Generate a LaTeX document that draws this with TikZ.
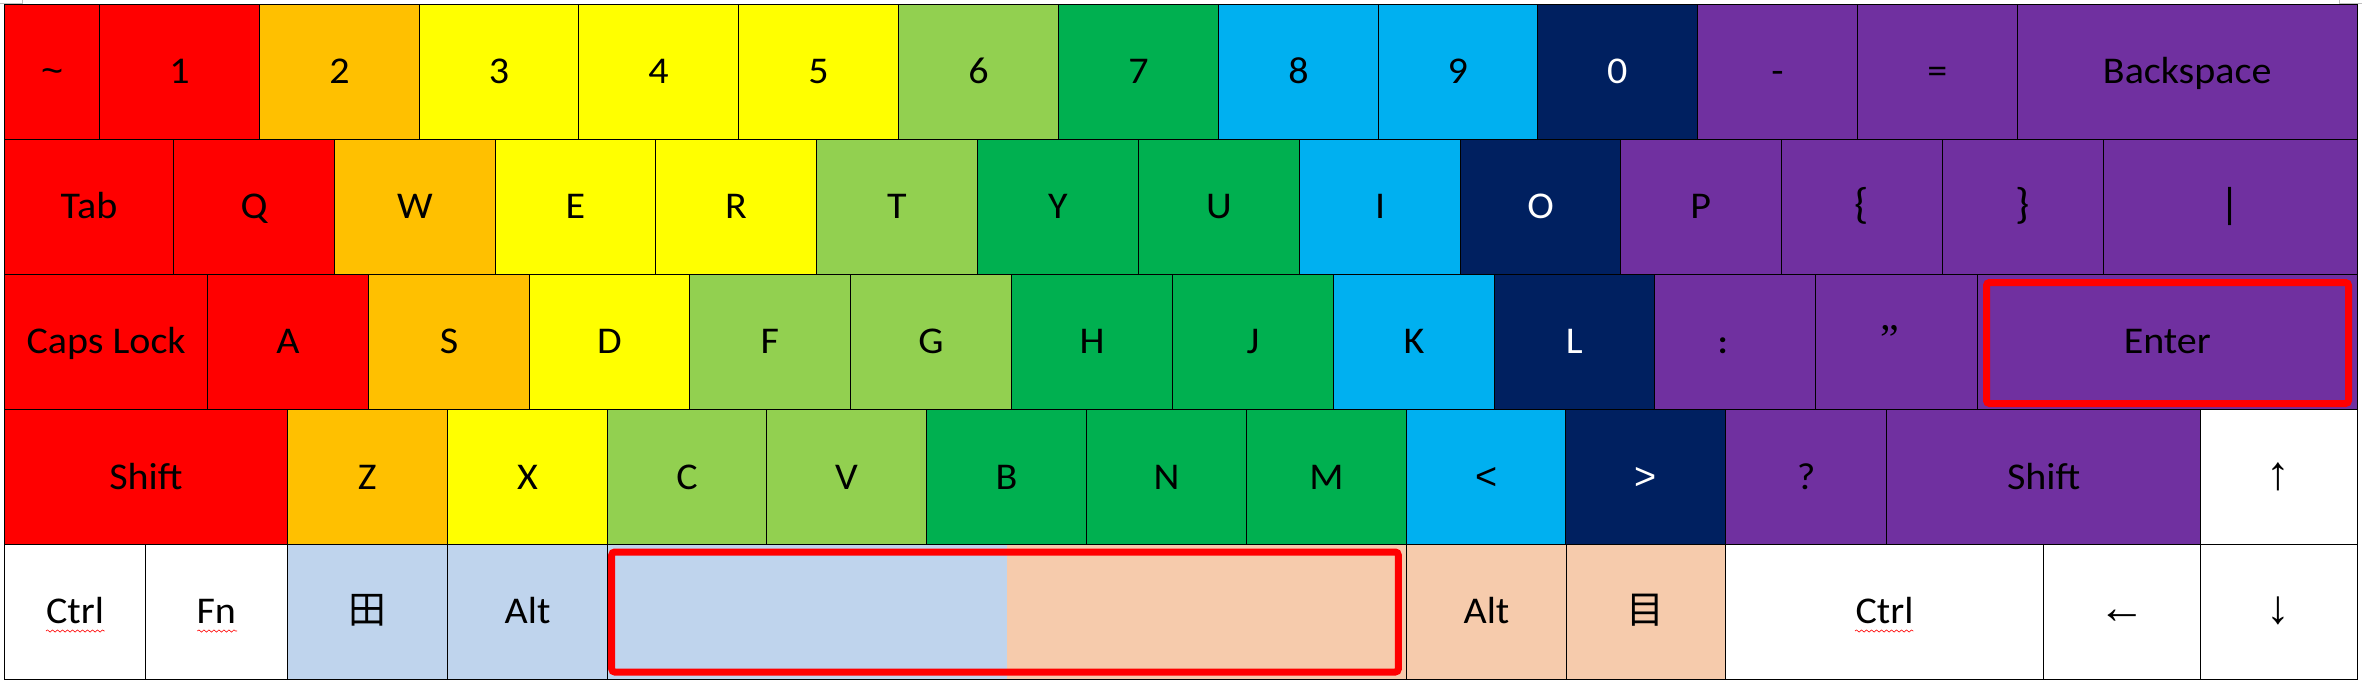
\documentclass[tikz,border=0pt]{standalone}
\usepackage{fontspec}
\setmainfont[FakeStretch=1.06]{Carlito}
\newfontfamily\cjk{Noto Sans CJK SC}
\newfontfamily\symb{Liberation Sans}
\newfontfamily\quot{Liberation Serif}
\usetikzlibrary{decorations.pathmorphing}
\definecolor{kred}{HTML}{FF0000}
\definecolor{korange}{HTML}{FFC000}
\definecolor{kyellow}{HTML}{FFFF00}
\definecolor{klime}{HTML}{92D050}
\definecolor{kgreen}{HTML}{00B050}
\definecolor{ksky}{HTML}{00B0F0}
\definecolor{knavy}{HTML}{002060}
\definecolor{kpurple}{HTML}{7030A0}
\definecolor{kpale}{HTML}{BFD4ED}
\definecolor{kpeach}{HTML}{F6CBAC}
\tikzset{
	keycap/.style={draw=black, line width=0.2mm, inner sep=0pt, minimum height=27mm,
		text height=6mm, text depth=1.2mm, font=\fontsize{21.5pt}{25pt}\selectfont},
	redframe/.style={draw=red, line width=1.4mm, rounded corners=0.6mm, inner sep=0pt},
	squiggle/.style={draw=red, line width=0.12mm, decorate, decoration={snake, amplitude=0.22mm, segment length=1mm}},
	cornermark/.style={draw=black!25, line width=0.2mm}
}
\newcommand{\keyrow}[2]{\foreach \xa/\xb/\col/\nm/\lab in {#2} {
		\node[keycap, fill=\col, minimum width={(\xb-\xa)*0.2mm}] (\nm) at ({(\xa+\xb)/2},#1) {\lab};
}}
\newcommand{\arrowsym}[1]{{\symb\fontsize{27pt}{27pt}\selectfont #1}}
\newcommand{\tallsym}[1]{{\fontsize{24.5pt}{25pt}\selectfont #1}}
\begin{document}
\begin{tikzpicture}[x=0.2mm, y=-0.2mm]
	\useasboundingbox (0,0) rectangle (2362,682);
	\fill[white] (0,0) rectangle (2362,682);
	\draw[cornermark] (0,3.3) -- (22,3.3) -- (22,0);
	\draw[cornermark] (2362,3.3) -- (2339,3.3) -- (2339,0);
	% number row
	\keyrow{71.7}{4.6/99.5/kred/kTilde/{\symb\textasciitilde}, 99.5/259.7/kred/kOne/1, 259.7/419.4/korange/kTwo/2,
		419.4/578.6/kyellow/kThree/3, 578.6/738.3/kyellow/kFour/4, 738.3/898.5/kyellow/kFive/5,
		898.5/1058.7/klime/kSix/6, 1058.7/1218.4/kgreen/kSeven/7, 1218.4/1378.6/ksky/kEight/8,
		1378.6/1537/ksky/kNine/9, 1537/1697.7/knavy/kZero/\textcolor{white}{0}, 1697.7/1857.5/kpurple/kMinus/-,
		1857.5/2017.4/kpurple/kEqual/=, 2017.4/2357/kpurple/kBack/Backspace}
	% tab row
	\keyrow{206.7}{4.6/173.5/kred/kTab/Tab, 173.5/334.7/kred/kQ/Q, 334.7/495.4/korange/kW/W,
		495.4/655.6/kyellow/kE/E, 655.6/816.3/kyellow/kR/R, 816.3/977.6/klime/kT/T,
		977.6/1138.3/kgreen/kY/Y, 1138.3/1299.5/kgreen/kU/U, 1299.5/1460.7/ksky/kI/I,
		1460.7/1620.4/knavy/kO/\textcolor{white}{O}, 1620.4/1781/kpurple/kP/P, 1781/1942.6/kpurple/kBraceL/\tallsym{\{},
		1942.6/2103.4/kpurple/kBraceR/\tallsym{\}}, 2103.4/2357/kpurple/kBar/\tallsym{|}}
	% caps row
	\keyrow{341.8}{4.6/207.7/kred/kCaps/Caps Lock, 207.7/368.4/kred/kA/A, 368.4/529.6/korange/kS/S,
		529.6/689.3/kyellow/kD/D, 689.3/850.5/klime/kF/F, 850.5/1011.7/klime/kG/G,
		1011.7/1172.4/kgreen/kH/H, 1172.4/1333.7/kgreen/kJ/J, 1333.7/1494.4/ksky/kK/K,
		1494.4/1654.4/knavy/kL/\textcolor{white}{L}, 1654.4/1815.3/kpurple/kColon/{\hspace*{-4.8mm}\bfseries\fontsize{19pt}{19pt}\selectfont :},
		1815.3/1977.6/kpurple/kQuote/{\hspace*{-2.8mm}\quot\fontsize{24pt}{25pt}\selectfont ”}, 1977.6/2357/kpurple/kEnter/Enter}
	% shift row
	\keyrow{477}{4.6/287.2/kred/kShiftL/Shift, 287.2/447.4/korange/kZ/Z, 447.4/607.7/kyellow/kX/X,
		607.7/766.3/klime/kC/C, 766.3/926.5/klime/kV/V, 926.5/1086.7/kgreen/kB/B,
		1086.7/1246.4/kgreen/kN/N, 1246.4/1406.6/kgreen/kM/M, 1406.6/1565.8/ksky/kLess/{\symb <},
		1565.8/1725.4/knavy/kGreater/\textcolor{white}{\symb >}, 1725.4/1886.7/kpurple/kQuestion/?,
		1886.7/2200.6/kpurple/kShiftR/Shift, 2200.6/2357/white/kUp/\arrowsym{↑}}
	% bottom row
	\keyrow{611.7}{4.6/145.4/white/kCtrlL/Ctrl, 145.4/287.2/white/kFn/Fn, 287.2/447.4/kpale/kWin/{\cjk 田},
		447.4/607.7/kpale/kAltL/Alt, 607.7/1006.6/kpale/kSpaceL/, 1006.6/1406.6/kpeach/kSpaceR/,
		1406.6/1566.3/kpeach/kAltR/Alt, 1566.3/1725.4/kpeach/kMenu/{\cjk 目}, 1725.4/2043.6/white/kCtrlR/Ctrl,
		2043.6/2200.6/white/kLeft/\arrowsym{←}, 2200.6/2357/white/kDown/\arrowsym{↓}}
	% the join of the two space halves carries no line
	\fill[kpale] (1005.5,544.7) rectangle (1006.6,678.7);
	\fill[kpeach] (1006.6,544.7) rectangle (1007.7,678.7);
	\node[redframe, minimum width=157.3mm, minimum height=24mm] (spaceFrame) at (1005,612) {};
	\node[redframe, minimum width=72.4mm, minimum height=24.2mm] (enterFrame) at (2167.5,343) {};
	% spelling marks
	\draw[squiggle] (46,631) -- (104.6,631);
	\draw[squiggle] (197.4,631) -- (237,631);
	\draw[squiggle] (1855,631) -- (1913.4,631);
\end{tikzpicture}
\end{document}
